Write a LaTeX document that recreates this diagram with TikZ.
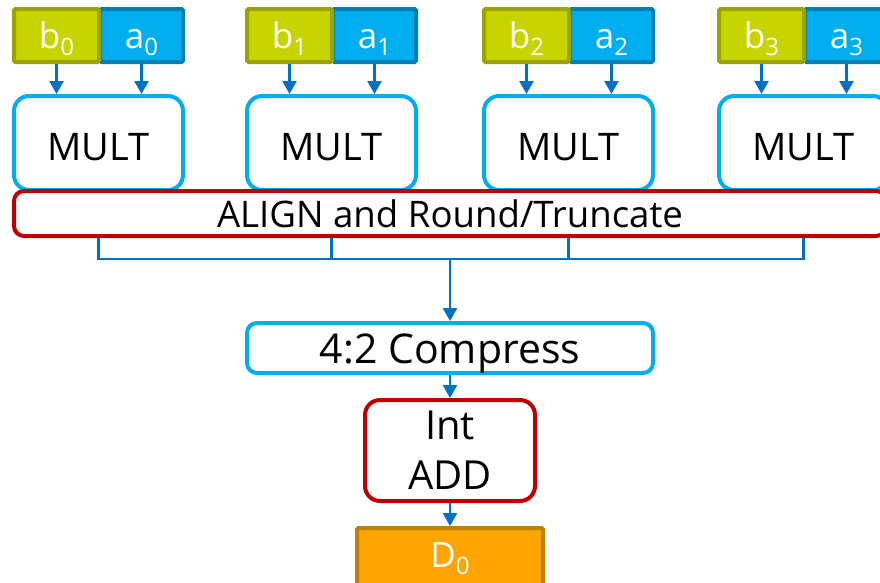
\documentclass[tikz,border=0pt]{standalone}
\usepackage{fontspec}
\setmainfont{Open Sans}
\usetikzlibrary{arrows.meta,calc}
\definecolor{bfill}{RGB}{200,212,0}
\definecolor{bline}{RGB}{155,163,0}
\definecolor{afill}{RGB}{0,174,239}
\definecolor{aline}{RGB}{0,127,178}
\definecolor{cyanline}{RGB}{0,174,239}
\definecolor{arrowblue}{RGB}{0,113,197}
\definecolor{redline}{RGB}{192,0,0}
\definecolor{dfill}{RGB}{255,164,0}
\definecolor{dline}{RGB}{192,128,0}
\newcommand{\sbx}[1]{\raisebox{-7pt}{\fontsize{24}{24}\selectfont #1}}
\tikzset{
  inbox/.style={draw, line width=4pt, rounded corners=1.5pt, minimum height=53pt, inner sep=0pt,
     text=white, font=\fontsize{35}{38}\selectfont, text height=27pt, text depth=1pt},
  bbox/.style={inbox, fill=bfill, draw=bline, minimum width=85pt},
  abox/.style={inbox, fill=afill, draw=aline, minimum width=83pt},
  multbox/.style={draw=cyanline, fill=white, line width=4pt, rounded corners=15pt,
     minimum width=169pt, minimum height=94pt, inner sep=0pt, font=\fontsize{38}{42}\selectfont,
     text height=34pt, text depth=0pt},
  alignbox/.style={draw=redline, fill=white, line width=4pt, rounded corners=10pt,
     minimum width=872pt, minimum height=45pt, inner sep=0pt, font=\fontsize{36.6}{40}\selectfont,
     text height=27pt, text depth=0pt},
  compbox/.style={draw=cyanline, fill=white, line width=4pt, rounded corners=10pt,
     minimum width=406pt, minimum height=50pt, inner sep=0pt, font=\fontsize{41}{46}\selectfont,
     text height=30pt, text depth=0pt},
  addbox/.style={draw=redline, fill=white, line width=4pt, rounded corners=15pt,
     minimum width=170pt, minimum height=101pt, inner sep=0pt, align=center,
     font=\fontsize{40}{50}\selectfont},
  outbox/.style={draw=dline, fill=dfill, line width=4pt, rounded corners=1.5pt,
     minimum width=186pt, minimum height=58pt, inner sep=0pt, text=white,
     font=\fontsize{35}{38}\selectfont, text height=25pt, text depth=5pt},
  arr/.style={draw=arrowblue, line width=2.5pt, -{Triangle[width=14pt,length=13pt]}},
  busline/.style={draw=arrowblue, line width=2.5pt},
}
\begin{document}
\begin{tikzpicture}[x=1pt,y=-1pt]
\useasboundingbox (0,0) rectangle (880,582);
\clip (0,0) rectangle (880,582);
\foreach \i/\o in {0/0,1/233,2/470,3/705}{
  \node[abox] (a\i) at (141.5+\o,35.5) {a\sbx{\i}};
  \node[bbox] (b\i) at (56.5+\o,35.5) {b\sbx{\i}};
  \node[multbox] (m\i) at (98.5+\o,143) {MULT};
  \draw[arr] (b\i.south) -- (b\i.south |- m\i.north);
  \draw[arr] (a\i.south) -- (a\i.south |- m\i.north);
}
\node[alignbox] (al) at (450,213.5) {ALIGN and Round/Truncate};
\coordinate (bus) at (450,259);
\draw[busline] (al.south -| m0) -- (m0 |- bus) -- (m3 |- bus) -- (al.south -| m3);
\draw[busline] (al.south -| m1) -- (m1 |- bus);
\draw[busline] (al.south -| m2) -- (m2 |- bus);
\node[compbox] (cp) at (450,348) {4:2 Compress};
\draw[arr] (bus) -- (cp.north);
\node[addbox] (ad) at (450,450.5) {Int\\ADD};
\draw[arr] (cp.south) -- (ad.north);
\node[outbox] (d0) at (450,557) {D\sbx{0}};
\draw[arr] (ad.south) -- (d0.north);
\end{tikzpicture}
\end{document}
